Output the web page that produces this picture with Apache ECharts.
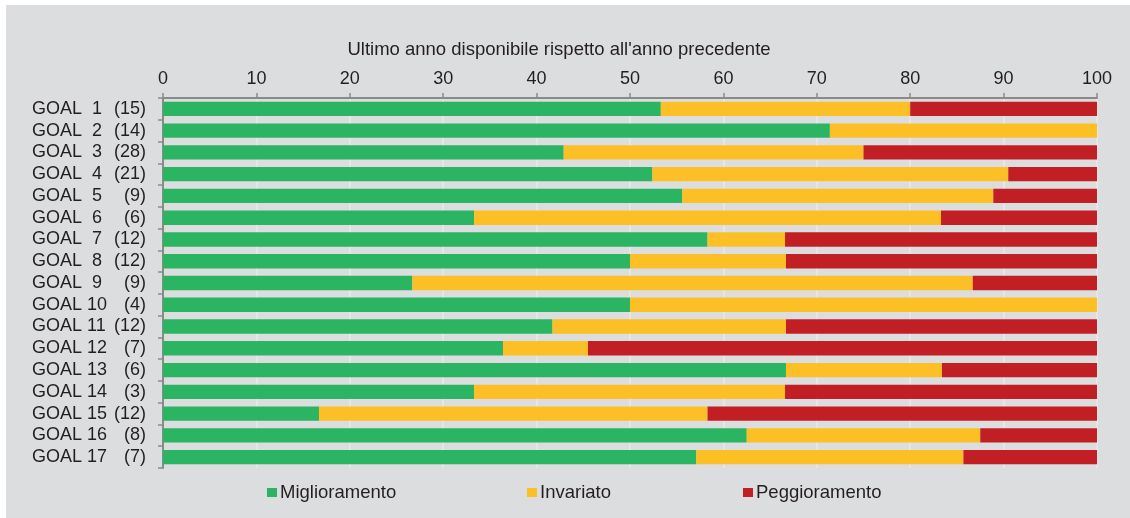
<!DOCTYPE html>
<html><head><meta charset="utf-8">
<script src="https://cdn.jsdelivr.net/npm/echarts@6/dist/echarts.min.js"></script>
<style>html,body{margin:0;padding:0;background:#fff;}#c{position:absolute;left:6px;top:5px;width:1124px;height:513px;background:#dcdddf;}</style>
</head><body><div id="c"></div>
<script>
const goals = ["GOAL  1","GOAL  2","GOAL  3","GOAL  4","GOAL  5","GOAL  6","GOAL  7","GOAL  8","GOAL  9","GOAL 10","GOAL 11","GOAL 12","GOAL 13","GOAL 14","GOAL 15","GOAL 16","GOAL 17"];
const counts = ["(15)","(14)","(28)","(21)","(9)","(6)","(12)","(12)","(9)","(4)","(12)","(7)","(6)","(3)","(12)","(8)","(7)"];
const miglioramento = [53.3,71.4,42.9,52.4,55.6,33.3,58.3,50,26.7,50,41.7,36.4,66.7,33.3,16.7,62.5,57.1];
const invariato = [26.7,28.6,32.1,38.1,33.3,50,8.3,16.7,60,50,25,9.1,16.7,33.3,41.6,25,28.6];
const peggioramento = [20,0,25,9.5,11.1,16.7,33.4,33.3,13.3,0,33.3,54.5,16.6,33.4,41.7,12.5,14.3];
const xTicks = [0,10,20,30,40,50,60,70,80,90,100];
const seriesNames = ["Miglioramento","Invariato","Peggioramento"];
const colors = ["#2bb462","#fdbf26","#c21f24"];

const cats = goals.map((g,i)=>g+"|"+counts[i]);
const font = "'Liberation Sans', Arial, sans-serif";
const chart = echarts.init(document.getElementById('c'));
const legendLefts = [261, 521, 737];
chart.setOption({
  backgroundColor: '#dcdddf',
  animation: false,
  textStyle: {fontFamily: font, color: '#231f20'},
  title: {text: 'Ultimo anno disponibile rispetto all\'anno precedente', left: 548, top: 30, textAlign: 'center',
    textStyle: {fontFamily: font, fontSize: 18.5, fontWeight: 'normal', color: '#231f20'}},
  legend: seriesNames.map((n,i)=>({data:[n], left: legendLefts[i], top: 478, padding: 0, itemWidth: 10, itemHeight: 9, icon: 'rect',
    textStyle: {fontFamily: font, fontSize: 18.5, color: '#231f20', padding: [0,0,0,-2]}})),
  grid: {left: 157, right: 33, top: 93, bottom: 50},
  xAxis: {type: 'value', position: 'top', min: xTicks[0], max: xTicks[xTicks.length-1], interval: 10,
    axisLine: {show: true, lineStyle: {color: '#8a8a8a', width: 2}},
    axisTick: {show: true, length: 5, lineStyle: {color: '#8a8a8a', width: 1.5}},
    axisLabel: {fontFamily: font, fontSize: 18, color: '#231f20', margin: 10},
    splitLine: {show: true, lineStyle: {color: '#e8e8ea', width: 1.5}}},
  yAxis: {type: 'category', inverse: true, data: cats,
    axisLine: {show: true, lineStyle: {color: '#8a8a8a', width: 2}},
    axisTick: {show: true, length: 5, lineStyle: {color: '#8a8a8a', width: 1.5}},
    axisLabel: {margin: 17, formatter: v => { const p = v.split('|'); return '{a|'+p[0]+'}{b|'+p[1]+'}'; },
      rich: {a: {fontFamily: font, fontSize: 18, color: '#231f20', width: 74, align: 'left'},
             b: {fontFamily: font, fontSize: 18, color: '#231f20', width: 40, align: 'right'}}}},
  series: [miglioramento, invariato, peggioramento].map((d,i)=>({
    name: seriesNames[i], type: 'bar', stack: 'tot', data: d, barWidth: '66%',
    itemStyle: {color: colors[i]}, emphasis: {disabled: true}
  }))
});
</script></body></html>
